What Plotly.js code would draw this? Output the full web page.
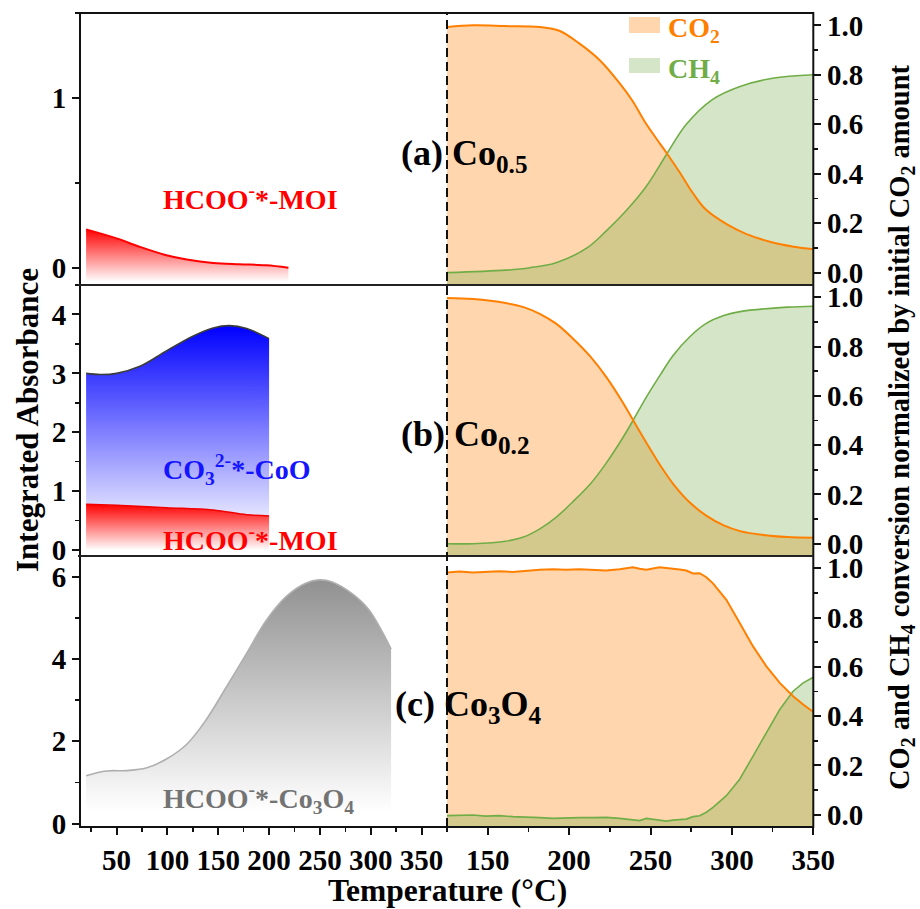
<!DOCTYPE html>
<html>
<head>
<meta charset="utf-8">
<script src="https://cdn.plot.ly/plotly-3.0.1.min.js"></script>
<style>html,body{margin:0;padding:0;background:#fff;}#chart{width:920px;height:909px;}</style>
</head>
<body>
<div id="chart"></div>
<script>
// ---------------- DATA ----------------
// Left panels: integrated absorbance vs temperature (°C)
const tA_moi = [20, 50, 73, 99, 119, 145, 171, 197, 219];
const aA_moi = [0.227, 0.174, 0.124, 0.075, 0.05, 0.03, 0.022, 0.016, 0.002];

const tB_co3 = [20, 34, 50, 73, 99, 125, 145, 161, 178, 200];
const aB_co3 = [3.0, 2.98, 3.0, 3.12, 3.38, 3.63, 3.77, 3.81, 3.76, 3.59];
const tB_moi = [20, 50, 99, 145, 178, 200];
const aB_moi = [0.78, 0.76, 0.72, 0.68, 0.60, 0.58];

const tC_co3o4 = [20, 40, 60, 79, 99, 119, 138, 158, 178, 197, 217, 236, 249, 262, 282, 298, 320];
const aC_co3o4 = [1.165, 1.28, 1.29, 1.35, 1.57, 1.93, 2.52, 3.32, 4.14, 4.93, 5.52, 5.84, 5.92, 5.87, 5.58, 5.2, 4.24];

// Right panels: normalized CO2 / CH4 vs temperature (°C)
const tA_co2 = [125, 141, 161, 182, 194, 206, 219, 231, 239, 247, 256, 260, 268, 276, 284, 297, 309, 325, 338, 350];
const vA_co2 = [0.993, 1.0, 0.997, 0.993, 0.978, 0.928, 0.858, 0.766, 0.694, 0.605, 0.52, 0.483, 0.405, 0.322, 0.255, 0.195, 0.156, 0.122, 0.105, 0.095];
const tA_ch4 = [125, 161, 176, 192, 211, 223, 235, 247, 260, 272, 288, 305, 325, 350];
const vA_ch4 = [0.0, 0.01, 0.02, 0.04, 0.10, 0.17, 0.25, 0.345, 0.48, 0.60, 0.70, 0.753, 0.786, 0.80];

const tB_co2 = [125, 141, 161, 172, 182, 192, 202, 213, 223, 233, 239, 247, 256, 264, 274, 284, 295, 305, 317, 334, 350];
const vB_co2 = [0.997, 0.993, 0.977, 0.960, 0.933, 0.893, 0.835, 0.76, 0.675, 0.573, 0.505, 0.415, 0.318, 0.242, 0.168, 0.115, 0.074, 0.051, 0.037, 0.027, 0.024];
const tB_ch4 = [125, 141, 161, 172, 182, 192, 202, 213, 223, 233, 239, 247, 256, 264, 274, 284, 295, 305, 334, 350];
const vB_ch4 = [0.0, 0.0, 0.01, 0.027, 0.06, 0.107, 0.168, 0.242, 0.329, 0.43, 0.497, 0.59, 0.685, 0.765, 0.839, 0.893, 0.926, 0.942, 0.96, 0.964];

const tC_gas = [125, 132.6, 140.8, 149, 157.2, 165.4, 173.6, 181.8, 190, 198.2, 206.4, 214.6, 222.8, 231, 239.2, 243.3, 247.4, 255.6, 259.7, 263.8, 267.9, 272, 276.1, 280.2, 284.3, 288.4, 296.6, 304.8, 313, 321.2, 329.4, 337.6, 343.8, 350];
const vC_co2 = [0.983, 0.987, 0.983, 0.985, 0.988, 0.985, 0.991, 0.994, 0.996, 0.994, 0.996, 0.994, 0.991, 0.996, 1.004, 0.998, 0.994, 1.004, 1.002, 1.0, 0.995, 0.991, 0.979, 0.980, 0.964, 0.939, 0.872, 0.778, 0.683, 0.602, 0.535, 0.481, 0.447, 0.417];
const vC_ch4 = [-0.004, -0.004, -0.001, -0.006, -0.004, -0.008, -0.009, -0.012, -0.015, -0.012, -0.012, -0.012, -0.011, -0.015, -0.020, -0.024, -0.015, -0.022, -0.026, -0.022, -0.020, -0.018, -0.008, -0.004, 0.010, 0.030, 0.077, 0.144, 0.238, 0.333, 0.427, 0.501, 0.535, 0.558];

const xTicksLeft = [50, 100, 150, 200, 250, 300, 350];
const xTicksRight = [150, 200, 250, 300, 350];

// ---------------- STYLE ----------------
const W = 920, H = 909;
const px = x => x / W;
const py = y => 1 - y / H;
const FONT = 'Liberation Serif, "Times New Roman", serif';
const ORANGE = 'rgb(255,128,0)';
const GREEN = 'rgb(112,173,71)';
const ORANGE_FILL = 'rgba(255,128,0,0.32)';
const GREEN_FILL = 'rgba(112,173,71,0.30)';

const RANGE_R = [-0.05, 1.05];
const RANGE_LA = [-0.1, 1.5], RANGE_LB = [-0.1, 4.5], RANGE_LC = [-0.08, 6.5];

const traces = [];
function baseline(xs, base, xa, ya) {
  traces.push({x: [xs[0], xs[xs.length - 1]], y: [base, base], xaxis: xa, yaxis: ya,
    mode: 'lines', line: {width: 0, color: 'rgba(0,0,0,0)'}, hoverinfo: 'skip'});
}
function gradFill(xs, ys, base, xa, ya, color, start, stop) {
  baseline(xs, base, xa, ya);
  traces.push({x: xs, y: ys, xaxis: xa, yaxis: ya, mode: 'lines', line: {width: 0, shape: 'spline', smoothing: 1},
    fill: 'tonexty',
    fillgradient: {type: 'vertical', start: start, stop: stop, colorscale: [[0, 'rgba(255,255,255,1)'], [1, color]]},
    hoverinfo: 'skip'});
}
function flatFill(xs, ys, base, xa, ya, color, shape) {
  baseline(xs, base, xa, ya);
  traces.push({x: xs, y: ys, xaxis: xa, yaxis: ya, mode: 'lines', line: {width: 0, shape: shape},
    fill: 'tonexty', fillcolor: color, hoverinfo: 'skip'});
}
function line(xs, ys, xa, ya, color, w, shape) {
  traces.push({x: xs, y: ys, xaxis: xa, yaxis: ya, mode: 'lines', line: {color: color, width: w, shape: shape, smoothing: 1}, hoverinfo: 'skip'});
}

// Panel (a)
gradFill(tA_moi, aA_moi, RANGE_LA[0], 'x', 'y', 'rgb(255,0,0)', -0.08, 0.23);
line(tA_moi, aA_moi, 'x', 'y', 'rgb(255,0,0)', 2, 'spline');
flatFill(tA_co2, vA_co2, RANGE_R[0], 'x2', 'y2', ORANGE_FILL, 'spline');
flatFill(tA_ch4, vA_ch4, RANGE_R[0], 'x2', 'y2', GREEN_FILL, 'spline');
line(tA_ch4, vA_ch4, 'x2', 'y2', GREEN, 1.6, 'spline');
line(tA_co2, vA_co2, 'x2', 'y2', ORANGE, 2, 'spline');

// Panel (b)
gradFill(tB_co3, aB_co3, 0, 'x', 'y3', 'rgb(0,0,255)', 0.2, 3.8);
gradFill(tB_moi, aB_moi, 0, 'x', 'y3', 'rgb(255,0,0)', 0.0, 0.78);
line(tB_co3, aB_co3, 'x', 'y3', 'rgb(60,60,60)', 1.6, 'spline');
line(tB_moi, aB_moi, 'x', 'y3', 'rgb(240,0,0)', 1.5, 'spline');
flatFill(tB_co2, vB_co2, RANGE_R[0], 'x2', 'y4', ORANGE_FILL, 'spline');
flatFill(tB_ch4, vB_ch4, RANGE_R[0], 'x2', 'y4', GREEN_FILL, 'spline');
line(tB_ch4, vB_ch4, 'x2', 'y4', GREEN, 1.6, 'spline');
line(tB_co2, vB_co2, 'x2', 'y4', ORANGE, 2, 'spline');

// Panel (c)
gradFill(tC_co3o4, aC_co3o4, 0, 'x', 'y5', 'rgb(145,145,145)', 0.3, 5.9);
line(tC_co3o4, aC_co3o4, 'x', 'y5', 'rgb(175,175,175)', 1.6, 'spline');
flatFill(tC_gas, vC_co2, RANGE_R[0], 'x2', 'y6', ORANGE_FILL, 'linear');
flatFill(tC_gas, vC_ch4, RANGE_R[0], 'x2', 'y6', GREEN_FILL, 'linear');
line(tC_gas, vC_ch4, 'x2', 'y6', GREEN, 1.6, 'linear');
line(tC_gas, vC_co2, 'x2', 'y6', ORANGE, 2, 'linear');

// ---------------- AXES ----------------
const TICKFONT = {family: FONT, size: 29, color: 'black', weight: 700};
const tickCommon = {ticks: 'outside', ticklen: 7, tickwidth: 2, tickcolor: '#111', showgrid: false, zeroline: false,
  showline: false, tickfont: TICKFONT, fixedrange: true};
function yLeft(domain, range, dtick, minorD) {
  return Object.assign({}, tickCommon, {domain: domain, range: range, anchor: 'x', side: 'left', tickmode: 'linear', tick0: 0, dtick: dtick,
    minor: {dtick: minorD, tick0: 0, ticks: 'outside', ticklen: 4, tickwidth: 1.5, tickcolor: '#111'}});
}
function yRight(domain) {
  return Object.assign({}, tickCommon, {domain: domain, range: RANGE_R, anchor: 'x2', side: 'right', tickmode: 'linear', tick0: 0, dtick: 0.2,
    tickformat: '.1f', minor: {dtick: 0.1, tick0: 0, ticks: 'outside', ticklen: 4, tickwidth: 1.5, tickcolor: '#111'}});
}
const dA = [py(285), py(13)], dB = [py(556), py(285)], dC = [py(827), py(556)];

const layout = {
  width: W, height: H, margin: {l: 0, r: 0, t: 0, b: 0},
  paper_bgcolor: 'white', plot_bgcolor: 'rgba(0,0,0,0)', showlegend: false,
  font: {family: FONT, size: 28, color: 'black', weight: 700},
  xaxis: Object.assign({}, tickCommon, {domain: [px(80), px(447)], range: [14, 375], anchor: 'y5', tickmode: 'array', tickvals: xTicksLeft,
    minor: {tickvals: [25, 75, 125, 175, 225, 275, 325, 375], ticks: 'outside', ticklen: 4, tickwidth: 1.5, tickcolor: '#111'}}),
  xaxis2: Object.assign({}, tickCommon, {domain: [px(447), px(813.3)], range: [125, 350], anchor: 'y6', tickmode: 'array', tickvals: xTicksRight,
    minor: {tickvals: [125, 175, 225, 275, 325], ticks: 'outside', ticklen: 4, tickwidth: 1.5, tickcolor: '#111'}}),
  yaxis: yLeft(dA, RANGE_LA, 1, 0.5),
  yaxis2: yRight(dA),
  yaxis3: yLeft(dB, RANGE_LB, 1, 0.5),
  yaxis4: yRight(dB),
  yaxis5: yLeft(dC, RANGE_LC, 2, 1),
  yaxis6: yRight(dC),
  shapes: [
    {type: 'rect', xref: 'paper', yref: 'paper', x0: px(80), x1: px(813.3), y0: py(827), y1: py(13), line: {color: '#111', width: 2}},
    {type: 'line', xref: 'paper', yref: 'paper', x0: px(78), x1: px(813.3), y0: py(285), y1: py(285), line: {color: '#222', width: 2}},
    {type: 'line', xref: 'paper', yref: 'paper', x0: px(78), x1: px(813.3), y0: py(556), y1: py(556), line: {color: '#222', width: 2}},
    {type: 'line', xref: 'paper', yref: 'paper', x0: px(447), x1: px(447), y0: py(827), y1: py(13), line: {color: '#111', width: 2, dash: '9px,5px'}},
    {type: 'rect', xref: 'paper', yref: 'paper', x0: px(629), x1: px(660), y0: py(33), y1: py(17), line: {width: 0}, fillcolor: ORANGE_FILL},
    {type: 'rect', xref: 'paper', yref: 'paper', x0: px(629), x1: px(660), y0: py(73), y1: py(58), line: {width: 0}, fillcolor: GREEN_FILL}
  ],
  annotations: []
};

function ann(text, x, y, opts) {
  layout.annotations.push(Object.assign({text: text, x: px(x), y: py(y), xref: 'paper', yref: 'paper', showarrow: false,
    xanchor: 'left', yanchor: 'middle', font: {family: FONT, size: 28, color: 'black', weight: 700}}, opts || {}));
}
// Legend
ann('CO<sub>2</sub>', 666, 30, {font: {family: FONT, size: 28, color: ORANGE, weight: 700}});
ann('CH<sub>4</sub>', 666, 71, {font: {family: FONT, size: 28, color: GREEN, weight: 700}});
// Panel labels
ann('(a) Co<sub>0.5</sub>', 399, 156, {font: {family: FONT, size: 36, color: 'black', weight: 700}});
ann('(b) Co<sub>0.2</sub>', 399, 436, {font: {family: FONT, size: 36, color: 'black', weight: 700}});
ann('(c) Co<sub>3</sub>O<sub>4</sub>', 393, 706, {font: {family: FONT, size: 36, color: 'black', weight: 700}});
// Species labels
ann('HCOO<sup>-</sup>*-MOI', 161, 198, {font: {family: FONT, size: 28, color: 'rgb(255,0,0)', weight: 700}});
ann('CO<sub>3</sub><sup>2-</sup>*-CoO', 161, 470, {font: {family: FONT, size: 28, color: 'rgb(20,20,255)', weight: 700}});
ann('HCOO<sup>-</sup>*-MOI', 161, 538, {font: {family: FONT, size: 28, color: 'rgb(255,0,0)', weight: 700}});
ann('HCOO<sup>-</sup>*-Co<sub>3</sub>O<sub>4</sub>', 161, 798, {font: {family: FONT, size: 28, color: 'rgb(115,115,115)', weight: 700}});
// Axis titles
ann('Temperature (°C)', 447, 890, {xanchor: 'center', font: {family: FONT, size: 31.5, color: 'black', weight: 700}});
ann('Integrated Absorbance', 27, 420, {xanchor: 'center', textangle: -90, font: {family: FONT, size: 31, color: 'black', weight: 700}});
ann('CO<sub>2</sub> and CH<sub>4</sub> conversion normalized by initial CO<sub>2</sub> amount', 901, 427,
  {xanchor: 'center', textangle: -90, font: {family: FONT, size: 28.5, color: 'black', weight: 700}});

Plotly.newPlot('chart', traces, layout, {staticPlot: true, displayModeBar: false});
</script>
</body>
</html>
